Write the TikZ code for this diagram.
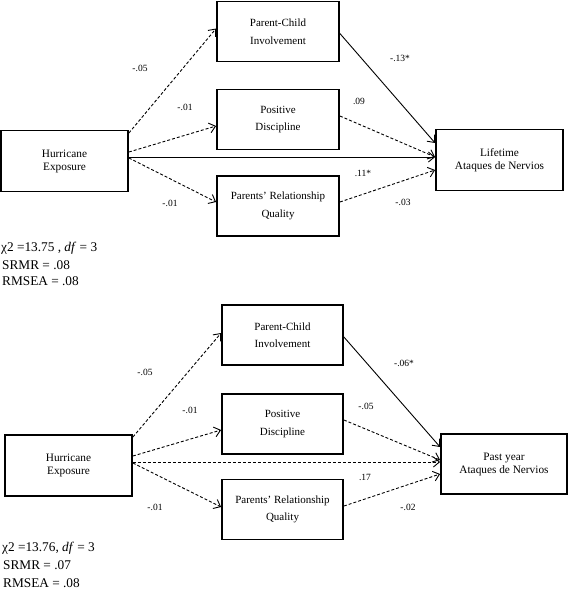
\documentclass[tikz,border=0pt]{standalone}
\usepackage{fontspec}
\setmainfont{Liberation Serif}
\usetikzlibrary{arrows.meta,calc}
\begin{document}
\begin{tikzpicture}[x=1pt,y=-1pt,
  endbox/.style={draw,line width=1.8pt,minimum width=127pt,minimum height=61pt,inner sep=0pt,align=center,font=\fontsize{11.3}{13}\selectfont},
  medbox/.style={draw,line width=1.8pt,minimum width=122pt,minimum height=60pt,inner sep=0pt,align=center,font=\fontsize{11}{17.5}\selectfont},
  path/.style={line width=0.9pt,-{Straight Barb[length=6pt,width=10pt,line width=0.9pt]}},
  ns/.style={path,dash pattern=on 3pt off 2pt},
  coef/.style={font=\fontsize{9.5}{11}\selectfont,inner sep=0pt},
  fit/.style={font=\fontsize{13.3}{15}\selectfont,anchor=west,inner sep=0pt}]
\useasboundingbox (0,0) rectangle (568,598);
% ---------- top model ----------
\node[endbox] (HE1) at (64.5,161) {Hurricane\\Exposure};
\node[medbox] (PCI1) at (278,31.5) {Parent-Child\\Involvement};
\node[medbox] (PD1) at (278,119.5) {Positive\\Discipline};
\node[medbox] (PRQ1) at (278,206) {Parents' Relationship\\Quality};
\node[endbox] (LT1) at (499.5,160) {Lifetime\\Ataques de Nervios};
\draw[ns] ($(HE1.east)+(0,-28)$) -- ($(PCI1.west)+(0,-3)$);
\draw[ns] ($(HE1.east)+(0,-9)$) -- ($(PD1.west)+(0,6.5)$);
\draw[path] ($(HE1.east)+(0,-4)$) -- ($(LT1.west)+(0,-3)$);
\draw[ns] ($(HE1.east)+(0,-3)$) -- ($(PRQ1.west)+(0,-4)$);
\draw[path] ($(PCI1.east)+(0,2)$) -- ($(LT1.west)+(0,-17)$);
\draw[ns] ($(PD1.east)+(0,-3.5)$) -- ($(LT1.west)+(0,-3)$);
\draw[ns] ($(PRQ1.east)+(0,-4)$) -- ($(LT1.west)+(0,10)$);
\node[coef] (c1) at (140,68) {-.05};
\node[coef] (c2) at (185,107) {-.01};
\node[coef] (c3) at (170,203.5) {-.01};
\node[coef] (c4) at (400,58.5) {-.13*};
\node[coef] (c5) at (359,101) {.09};
\node[coef] (c6) at (363,173) {.11*};
\node[coef] (c7) at (403,202.5) {-.03};
\node[fit] (f1) at (1,248) {χ2 =13.75 , \textit{df} = 3};
\node[fit] (f2) at (2,265) {SRMR = .08};
\node[fit] (f3) at (2,281.5) {RMSEA = .08};
% ---------- bottom model ----------
\node[endbox] (HE2) at (68.5,465.5) {Hurricane\\Exposure};
\node[medbox,minimum width=121pt] (PCI2) at (282.5,335) {Parent-Child\\Involvement};
\node[medbox,minimum width=121pt] (PD2) at (282.5,424) {Positive\\Discipline};
\node[medbox,minimum width=121pt] (PRQ2) at (282.5,509.5) {Parents' Relationship\\Quality};
\node[endbox,minimum width=126pt,minimum height=60pt] (PY2) at (504,464) {Past year\\Ataques de Nervios};
\draw[ns] ($(HE2.east)+(0,-28.5)$) -- ($(PCI2.west)+(0,-2)$);
\draw[ns] ($(HE2.east)+(0,-9.5)$) -- ($(PD2.west)+(0,6)$);
\draw[ns] ($(HE2.east)+(0,-3.5)$) -- ($(PY2.west)+(0,-2)$);
\draw[ns] ($(HE2.east)+(0,-2.5)$) -- ($(PRQ2.west)+(0,-2.5)$);
\draw[path] ($(PCI2.east)+(0,2)$) -- ($(PY2.west)+(0,-17)$);
\draw[ns] ($(PD2.east)+(0,-4)$) -- ($(PY2.west)+(0,-4)$);
\draw[ns] ($(PRQ2.east)+(0,-3.5)$) -- ($(PY2.west)+(0,10)$);
\node[coef] (d1) at (145,372) {-.05};
\node[coef] (d2) at (190,410) {-.01};
\node[coef] (d3) at (155,507) {-.01};
\node[coef] (d4) at (404,363) {-.06*};
\node[coef] (d5) at (366,406) {-.05};
\node[coef] (d6) at (365,477) {.17};
\node[coef] (d7) at (408,507) {-.02};
\node[fit] (g1) at (2,548) {χ2 =13.76, \textit{df} = 3};
\node[fit] (g2) at (3,565) {SRMR = .07};
\node[fit] (g3) at (3,583) {RMSEA = .08};
\end{tikzpicture}
\end{document}
